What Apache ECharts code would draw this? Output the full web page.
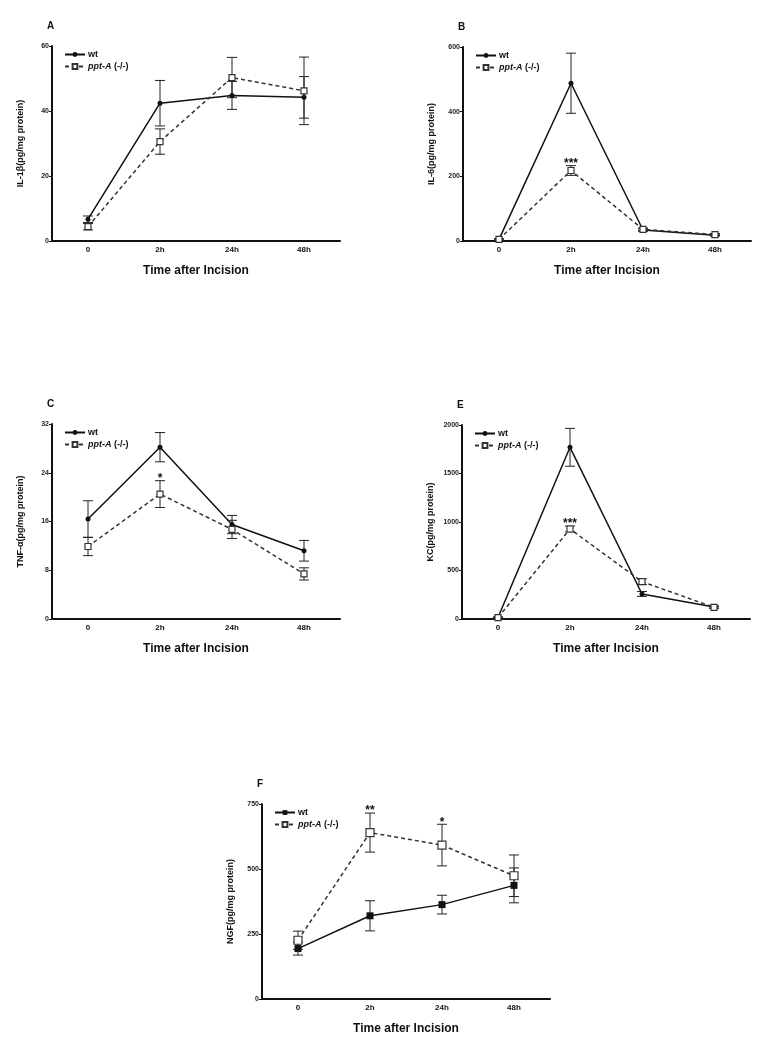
<!DOCTYPE html>
<html>
<head>
<meta charset="utf-8">
<script src="https://cdn.jsdelivr.net/npm/echarts@6/dist/echarts.min.js"></script>
<style>
html,body{margin:0;padding:0;background:#fff;}
#c{width:767px;height:1050px;}
</style>
</head>
<body>
<div id="c"></div>
<script>
const cats = ['0', '2h', '24h', '48h'];

const A_wt = [6.7, 42.4, 44.8, 44.2];
const A_wt_err = [1.0, 7.0, 4.3, 6.4];
const A_ko = [4.4, 30.6, 50.3, 46.2];
const A_ko_err = [1.0, 3.9, 6.2, 10.4];
const A_sig = ['', '', '', ''];

const B_wt = [5, 488, 34, 18];
const B_wt_err = [2, 93, 4, 3];
const B_ko = [5, 218, 36, 20];
const B_ko_err = [2, 15, 4, 3];
const B_sig = ['', '***', '', ''];

const C_wt = [16.4, 28.2, 15.5, 11.2];
const C_wt_err = [3.0, 2.4, 1.5, 1.7];
const C_ko = [11.9, 20.5, 14.7, 7.4];
const C_ko_err = [1.5, 2.2, 1.5, 1.0];
const C_sig = ['', '*', '', ''];

const E_wt = [15, 1770, 258, 124];
const E_wt_err = [5, 195, 25, 10];
const E_ko = [15, 928, 385, 120];
const E_ko_err = [5, 30, 30, 10];
const E_sig = ['', '***', '', ''];

const F_wt = [194, 320, 363, 437];
const F_wt_err = [25, 58, 36, 67];
const F_ko = [226, 640, 592, 474];
const F_ko_err = [35, 75, 80, 80];
const F_sig = ['', '**', '*', ''];

const panels = [
  {letter:'A', yname:'IL-1β(pg/mg protein)', max:60, interval:20, wt:A_wt, wtE:A_wt_err, ko:A_ko, koE:A_ko_err, sig:A_sig, grid:{left:52, top:46, width:288, height:195}, wtSym:'circle', wtSize:5},
  {letter:'B', yname:'IL-6(pg/mg protein)', max:600, interval:200, wt:B_wt, wtE:B_wt_err, ko:B_ko, koE:B_ko_err, sig:B_sig, grid:{left:463, top:47, width:288, height:194}, wtSym:'circle', wtSize:5},
  {letter:'C', yname:'TNF-α(pg/mg protein)', max:32, interval:8, wt:C_wt, wtE:C_wt_err, ko:C_ko, koE:C_ko_err, sig:C_sig, grid:{left:52, top:424, width:288, height:195}, wtSym:'circle', wtSize:5},
  {letter:'E', yname:'KC(pg/mg protein)', max:2000, interval:500, wt:E_wt, wtE:E_wt_err, ko:E_ko, koE:E_ko_err, sig:E_sig, grid:{left:462, top:425, width:288, height:194}, wtSym:'circle', wtSize:5},
  {letter:'F', yname:'NGF(pg/mg protein)', max:750, interval:250, wt:F_wt, wtE:F_wt_err, ko:F_ko, koE:F_ko_err, sig:F_sig, grid:{left:262, top:804, width:288, height:195}, wtSym:'rect', wtSize:7}
];

const FONT = 'Liberation Sans, Arial, sans-serif';
const grids = [], xAxes = [], yAxes = [], series = [], legends = [], graphics = [];

function errRender(params, api) {
  const x = api.value(0), lo = api.value(1), hi = api.value(2);
  const pLo = api.coord([x, lo]);
  const pHi = api.coord([x, hi]);
  const w = 5;
  const st = {stroke:'#222', lineWidth:1};
  return {type:'group', children:[
    {type:'line', shape:{x1:pLo[0], y1:pLo[1], x2:pHi[0], y2:pHi[1]}, style:st},
    {type:'line', shape:{x1:pLo[0]-w, y1:pLo[1], x2:pLo[0]+w, y2:pLo[1]}, style:st},
    {type:'line', shape:{x1:pHi[0]-w, y1:pHi[1], x2:pHi[0]+w, y2:pHi[1]}, style:st}
  ]};
}

panels.forEach((p, i) => {
  grids.push(p.grid);
  xAxes.push({
    type:'category', gridIndex:i, data:cats, boundaryGap:true,
    axisLine:{lineStyle:{color:'#111', width:2}},
    axisTick:{alignWithLabel:true, length:3, lineStyle:{color:'#111', width:1}},
    axisLabel:{color:'#111', fontFamily:FONT, fontWeight:'bold', fontSize:8, margin:5},
    name:'Time after Incision', nameLocation:'middle', nameGap:24,
    nameTextStyle:{color:'#111', fontFamily:FONT, fontWeight:'bold', fontSize:12}
  });
  yAxes.push({
    type:'value', gridIndex:i, min:0, max:p.max, interval:p.interval,
    axisLine:{show:true, lineStyle:{color:'#111', width:2}},
    axisTick:{show:true, length:3, lineStyle:{color:'#111', width:1}},
    splitLine:{show:false},
    axisLabel:{color:'#222', fontFamily:FONT, fontWeight:'bold', fontSize:7, margin:3,
      formatter:function(v){ return String(v); }},
    name:p.yname, nameLocation:'middle', nameGap:27, nameRotate:90,
    nameTextStyle:{color:'#111', fontFamily:FONT, fontWeight:'bold', fontSize:9}
  });
  const wtName = 'wt' + i, koName = 'ko' + i;
  series.push({
    type:'line', name:wtName, xAxisIndex:i, yAxisIndex:i, data:p.wt,
    symbol:p.wtSym, symbolSize:p.wtSize, showSymbol:true,
    lineStyle:{color:'#111', width:1.5}, itemStyle:{color:'#111'}, z:3
  });
  series.push({
    type:'line', name:koName, xAxisIndex:i, yAxisIndex:i, data:p.ko,
    symbol:'rect', symbolSize:i === 4 ? 8 : 6, showSymbol:true,
    lineStyle:{color:'#333', width:1.5, type:[4, 3]},
    itemStyle:{color:'#fff', borderColor:'#333', borderWidth:1.2}, z:4
  });
  const errData = [];
  p.wt.forEach((v, k) => errData.push([k, v - p.wtE[k], v + p.wtE[k]]));
  p.ko.forEach((v, k) => errData.push([k, v - p.koE[k], v + p.koE[k]]));
  series.push({
    type:'custom', xAxisIndex:i, yAxisIndex:i, data:errData, renderItem:errRender, z:2, silent:true
  });
  const sigData = [];
  p.sig.forEach((s, k) => { if (s) sigData.push([k, p.ko[k] + p.koE[k], s]); });
  series.push({
    type:'custom', xAxisIndex:i, yAxisIndex:i, data:sigData, z:5, silent:true,
    renderItem:function(params, api) {
      const pt = api.coord([api.value(0), api.value(1)]);
      return {type:'text', style:{text:sigData[params.dataIndex][2], x:pt[0], y:pt[1] + 4,
        align:'center', verticalAlign:'bottom', fill:'#111', font:'bold 12px ' + FONT}};
    }
  });
  legends.push({
    data:[wtName, koName], orient:'vertical',
    left:p.grid.left + 7, top:p.grid.top - 1,
    itemWidth:20, itemHeight:6, itemGap:3,
    formatter:function(name){ return name.indexOf('wt') === 0 ? '{n|wt}' : '{i|ppt-A} {n|(-/-)}'; },
    textStyle:{color:'#111', fontFamily:FONT, fontSize:9, padding:[0,0,0,-2],
      rich:{n:{fontFamily:FONT, fontWeight:'bold', fontSize:9, color:'#111'},
            i:{fontFamily:FONT, fontWeight:'bold', fontStyle:'italic', fontSize:9, color:'#111'}}}
  });
  graphics.push({type:'text', left:p.grid.left - 5, top:p.grid.top - 25,
    style:{text:p.letter, font:'bold 10px ' + FONT, fill:'#111'}});
});

const chart = echarts.init(document.getElementById('c'), null, {renderer:'canvas'});
chart.setOption({
  backgroundColor:'#fff', animation:false,
  grid:grids, xAxis:xAxes, yAxis:yAxes, series:series, legend:legends, graphic:graphics
});
</script>
</body>
</html>
